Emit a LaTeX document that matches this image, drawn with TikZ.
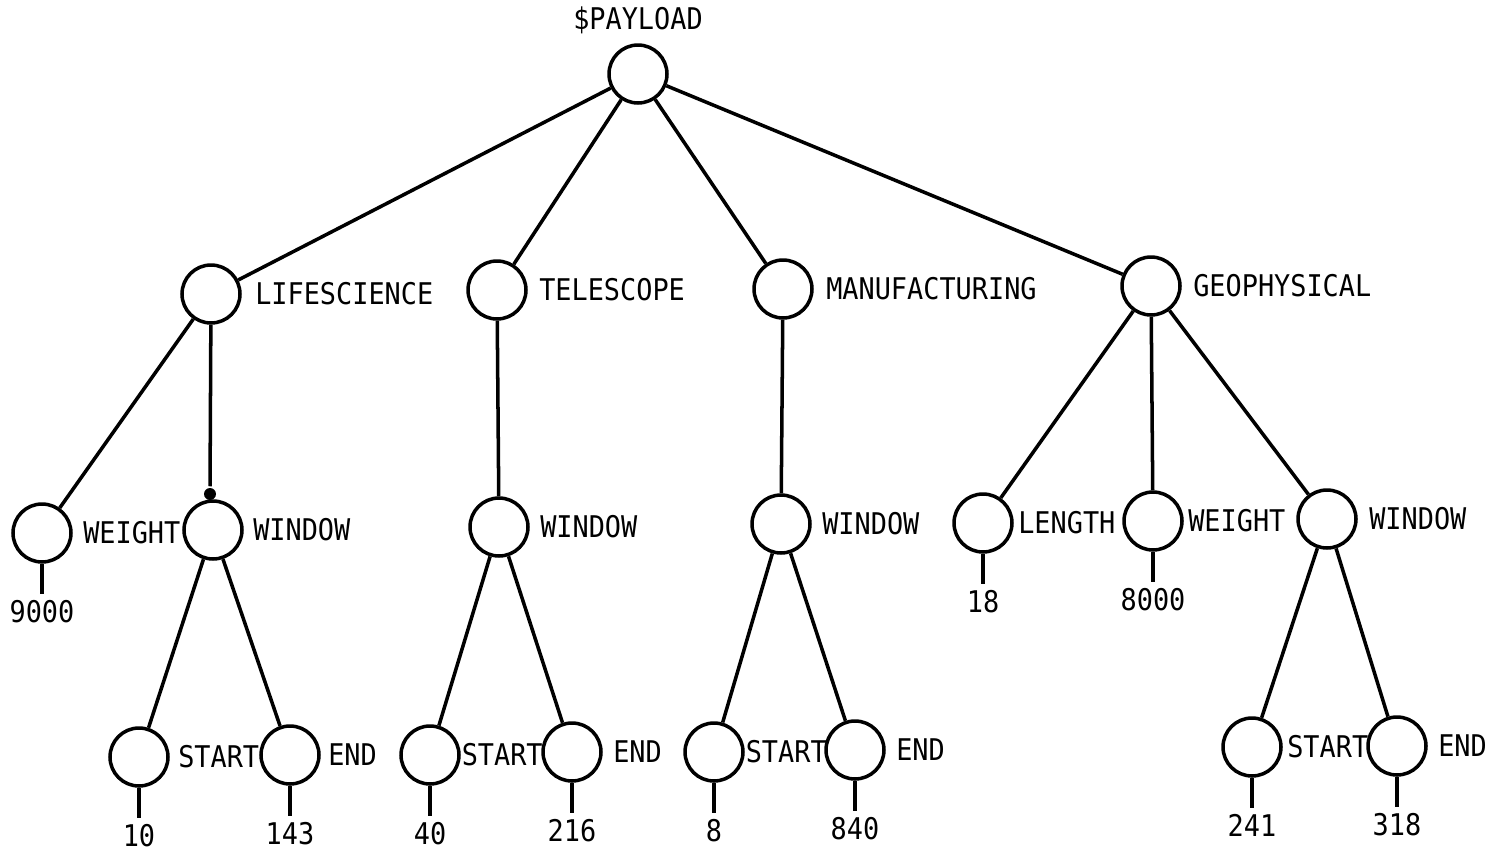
\documentclass[tikz,border=0pt]{standalone}
\usepackage{fontspec}
\newfontfamily\treefont[FakeStretch=0.9]{DejaVu Sans Mono}
\usetikzlibrary{positioning}

\tikzset{
  vertex/.style={draw, circle, minimum size=1.16cm, inner sep=0pt},
  tag/.style={font=\treefont\fontsize{17}{20}\selectfont, inner sep=1pt},
  val/.style={font=\treefont\fontsize{17}{20}\selectfont, inner sep=3pt},
  dotmark/.style={circle, fill, inner sep=0pt, minimum size=0.24cm}
}

\begin{document}
\begin{tikzpicture}[x=0.02cm, y=-0.02cm, line width=2pt]
\useasboundingbox (0,0) rectangle (1492,856);

% root
\node[vertex] (root) at (638,74) {};
\node[tag, above=0.12cm of root] (rootlbl) {\$PAYLOAD};

% first level
\node[vertex] (life) at (211,294) {};
\node[tag, right=0.2cm of life] (lifelbl) {LIFESCIENCE};
\node[vertex] (tele) at (497,290) {};
\node[tag, right=0.16cm of tele] (telelbl) {TELESCOPE};
\node[vertex] (manu) at (783,289) {};
\node[tag, right=0.18cm of manu] (manulbl) {MANUFACTURING};
\node[vertex] (geo) at (1151,286) {};
\node[tag, right=0.16cm of geo] (geolbl) {GEOPHYSICAL};

\draw (root) -- (life);
\draw (root) -- (tele);
\draw (root) -- (manu);
\draw (root) -- (geo);

% lifescience
\node[vertex] (lifewt) at (42,533) {};
\node[tag, right=0.14cm of lifewt] (lifewtlbl) {WEIGHT};
\node[val, below=0.6cm of lifewt] (lifewtv) {9000};
\node[vertex] (lifewin) at (213,530) {};
\node[tag, right=0.12cm of lifewin] (lifewinlbl) {WINDOW};
\node[dotmark] (lifedot) at (210,494) {};
\node[vertex] (lifest) at (139,757) {};
\node[tag, right=0.1cm of lifest] (lifestlbl) {START};
\node[val, below=0.6cm of lifest] (lifestv) {10};
\node[vertex] (lifeend) at (290,755) {};
\node[tag, right=0.08cm of lifeend] (lifeendlbl) {END};
\node[val, below=0.6cm of lifeend] (lifeendv) {143};

\draw (life) -- (lifewt);
\draw (life) -- (lifedot);
\draw (lifewt) -- (lifewtv);
\draw (lifewin) -- (lifest);
\draw (lifewin) -- (lifeend);
\draw (lifest) -- (lifestv);
\draw (lifeend) -- (lifeendv);

% telescope
\node[vertex] (telewin) at (499,527) {};
\node[tag, right=0.14cm of telewin] (telewinlbl) {WINDOW};
\node[vertex] (telest) at (430,755) {};
\node[tag, right=-0.05cm of telest] (telestlbl) {START};
\node[val, below=0.6cm of telest] (telestv) {40};
\node[vertex] (teleend) at (572,752) {};
\node[tag, right=0.14cm of teleend] (teleendlbl) {END};
\node[val, below=0.6cm of teleend] (teleendv) {216};

\draw (tele) -- (telewin);
\draw (telewin) -- (telest);
\draw (telewin) -- (teleend);
\draw (telest) -- (telestv);
\draw (teleend) -- (teleendv);

% manufacturing
\node[vertex] (manuwin) at (781,524) {};
\node[tag, right=0.14cm of manuwin] (manuwinlbl) {WINDOW};
\node[vertex] (manust) at (714,752) {};
\node[tag, right=-0.05cm of manust] (manustlbl) {START};
\node[val, below=0.6cm of manust] (manustv) {8};
\node[vertex] (manuend) at (855,750) {};
\node[tag, right=0.14cm of manuend] (manuendlbl) {END};
\node[val, below=0.6cm of manuend] (manuendv) {840};

\draw (manu) -- (manuwin);
\draw (manuwin) -- (manust);
\draw (manuwin) -- (manuend);
\draw (manust) -- (manustv);
\draw (manuend) -- (manuendv);

% geophysical
\node[vertex] (geolen) at (983,523) {};
\node[tag, right=0.02cm of geolen] (geolenlbl) {LENGTH};
\node[val, below=0.6cm of geolen] (geolenv) {18};
\node[vertex] (geowt) at (1153,521) {};
\node[tag, right=0.02cm of geowt] (geowtlbl) {WEIGHT};
\node[val, below=0.6cm of geowt] (geowtv) {8000};
\node[vertex] (geowin) at (1327,519) {};
\node[tag, right=0.16cm of geowin] (geowinlbl) {WINDOW};
\node[vertex] (geost) at (1252,747) {};
\node[tag, right=0.02cm of geost] (geostlbl) {START};
\node[val, below=0.6cm of geost] (geostv) {241};
\node[vertex] (geoend) at (1397,746) {};
\node[tag, right=0.14cm of geoend] (geoendlbl) {END};
\node[val, below=0.6cm of geoend] (geoendv) {318};

\draw (geo) -- (geolen);
\draw (geo) -- (geowt);
\draw (geo) -- (geowin);
\draw (geolen) -- (geolenv);
\draw (geowt) -- (geowtv);
\draw (geowin) -- (geost);
\draw (geowin) -- (geoend);
\draw (geost) -- (geostv);
\draw (geoend) -- (geoendv);

\end{tikzpicture}
\end{document}
